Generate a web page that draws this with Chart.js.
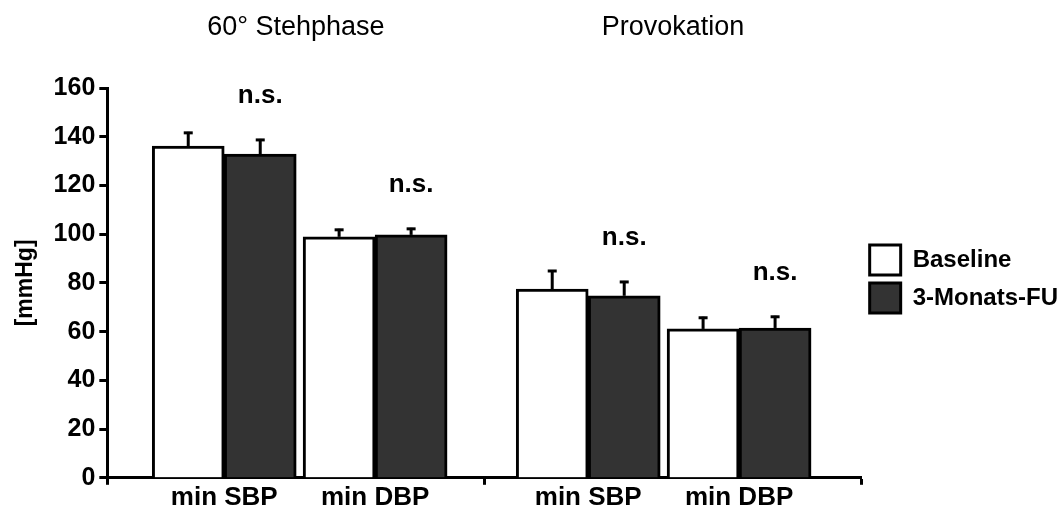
<!DOCTYPE html>
<html>
<head>
<meta charset="utf-8">
<script src="https://cdn.jsdelivr.net/npm/chart.js@4.4.1/dist/chart.umd.min.js"></script>
<style>
  html, body { margin: 0; padding: 0; background: #fff; }
  #wrap { width: 1060px; height: 522px; }
</style>
</head>
<body>
<div id="wrap"><canvas id="c" width="1060" height="522"></canvas></div>
<script>
// ---- data ----
const groups = ["60° Stehphase", "Provokation"];
const categories = ["min SBP", "min DBP"];
const seriesNames = ["Baseline", "3-Monats-FU"];
const baselineValues = [136.2, 98.9, 77.5, 61.1];
const baselineErrors = [5.8, 3.3, 7.8, 5.0];
const followUpValues = [132.9, 99.7, 74.7, 61.5];
const followUpErrors = [6.2, 2.9, 6.1, 5.0];
const significance = ["n.s.", "n.s.", "n.s.", "n.s."];
const yMin = 0, yMax = 160, yStep = 20;
const yTitle = "[mmHg]";

// ---- layout helpers (positions derived from group / category index) ----
const pairOffset = 0.2;          // half distance between the two pairs of a group
const groupShift = [0.01, -0.025]; // small layout nudge of each group within its band
const slotX = [];
groups.forEach((g, gi) => categories.forEach((c, ci) => {
  slotX.push(gi + groupShift[gi] + (ci === 0 ? -pairOffset : pairOffset));
}));
const slotLabels = [];
groups.forEach(() => categories.forEach(c => slotLabels.push(c)));
const boundaries = [];
for (let i = 0; i <= groups.length; i++) boundaries.push(i - 0.5);

const FONT = "'Liberation Sans', Arial, sans-serif";

const errorBars = {
  id: 'errorBars',
  afterLayout(chart) {
    const l = chart.legend;
    if (l) { l.top -= 20; l.bottom -= 20; }
  },
  afterDatasetsDraw(chart) {
    const ctx = chart.ctx;
    const y = chart.scales.y;
    const errs = [baselineErrors, followUpErrors];
    const vals = [baselineValues, followUpValues];
    chart.data.datasets.forEach((ds, di) => {
      const meta = chart.getDatasetMeta(di);
      meta.data.forEach((bar, i) => {
        const top = y.getPixelForValue(vals[di][i] + errs[di][i]);
        ctx.save();
        ctx.strokeStyle = '#000';
        ctx.lineWidth = 3;
        ctx.beginPath();
        ctx.moveTo(bar.x, bar.y);
        ctx.lineTo(bar.x, top);
        ctx.stroke();
        ctx.beginPath();
        ctx.moveTo(bar.x - 4.5, top + 1);
        ctx.lineTo(bar.x + 4.5, top + 1);
        ctx.stroke();
        ctx.restore();
      });
    });
  },
  afterDraw(chart) {
    const ctx = chart.ctx;
    const x = chart.scales.x;
    const y = chart.scales.y;
    ctx.save();
    ctx.fillStyle = '#000';
    ctx.textAlign = 'center';
    ctx.textBaseline = 'middle';
    // group titles
    ctx.font = "27px " + FONT;
    groups.forEach((g, gi) => ctx.fillText(g, x.getPixelForValue(gi), 28));
    // significance labels above follow-up bars
    ctx.font = "bold 26px " + FONT;
    const meta = chart.getDatasetMeta(1);
    meta.data.forEach((bar, i) => {
      const top = y.getPixelForValue(followUpValues[i] + followUpErrors[i]);
      ctx.fillText(significance[i], bar.x, top - 43);
    });
    ctx.restore();
  }
};

new Chart(document.getElementById('c'), {
  type: 'bar',
  data: {
    datasets: [
      {
        label: seriesNames[0],
        data: baselineValues.map((v, i) => ({ x: slotX[i], y: v })),
        backgroundColor: '#ffffff',
        borderColor: '#000000',
        borderWidth: 3,
        borderSkipped: 'bottom'
      },
      {
        label: seriesNames[1],
        data: followUpValues.map((v, i) => ({ x: slotX[i], y: v })),
        backgroundColor: '#333333',
        borderColor: '#000000',
        borderWidth: 3,
        borderSkipped: 'bottom'
      }
    ]
  },
  options: {
    responsive: false,
    animation: false,
    devicePixelRatio: 1,
    barThickness: 72,
    layout: { padding: { top: 88, left: 12, right: -8, bottom: 12 } },
    plugins: {
      legend: {
        position: 'right',
        labels: {
          boxWidth: 31,
          boxHeight: 30,
          padding: 8,
          color: '#000',
          font: { family: FONT, size: 24, weight: 'bold' }
        }
      },
      tooltip: { enabled: false }
    },
    scales: {
      x: {
        type: 'linear',
        min: boundaries[0],
        max: boundaries[boundaries.length - 1],
        offset: false,
        afterBuildTicks(scale) {
          const vals = boundaries.concat(slotX).sort((a, b) => a - b);
          scale.ticks = vals.map(v => ({ value: v }));
        },
        ticks: {
          autoSkip: false,
          maxRotation: 0,
          color: '#000',
          padding: -3,
          font: { family: FONT, size: 26, weight: 'bold' },
          callback(value) {
            const i = slotX.findIndex(s => Math.abs(s - value) < 1e-6);
            return i >= 0 ? slotLabels[i] : '';
          }
        },
        grid: {
          display: true,
          offset: false,
          drawOnChartArea: false,
          tickLength: 7,
          tickWidth: 3,
          tickColor(ctx) {
            const v = ctx.tick ? ctx.tick.value : null;
            return boundaries.some(b => Math.abs(b - v) < 1e-6) ? '#000' : 'rgba(0,0,0,0)';
          }
        },
        border: { display: true, color: '#000', width: 3 }
      },
      y: {
        min: yMin,
        max: yMax,
        ticks: {
          stepSize: yStep,
          color: '#000',
          padding: 4,
          font: { family: FONT, size: 25, weight: 'bold' }
        },
        grid: {
          display: true,
          drawOnChartArea: false,
          tickLength: 8,
          tickWidth: 3,
          tickColor: '#000'
        },
        border: { display: true, color: '#000', width: 3 },
        title: {
          display: true,
          text: yTitle,
          color: '#000',
          padding: { top: 0, bottom: 10 },
          font: { family: FONT, size: 23, weight: 'bold' }
        }
      }
    }
  },
  plugins: [errorBars]
});
</script>
</body>
</html>
